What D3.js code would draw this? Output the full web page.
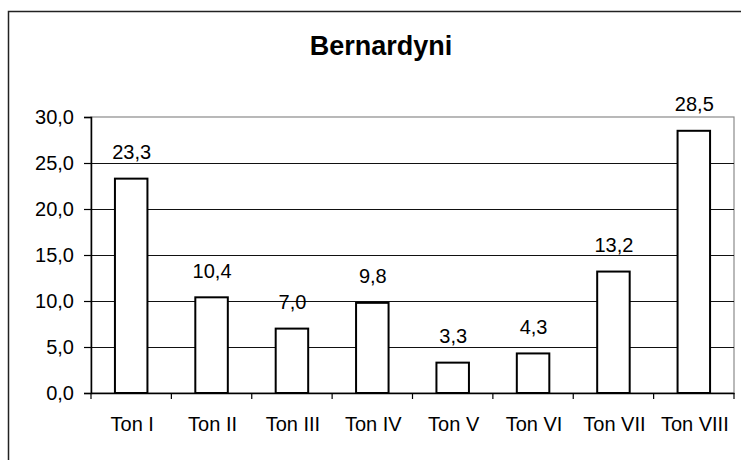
<!DOCTYPE html>
<html>
<head>
<meta charset="utf-8">
<script src="https://cdn.jsdelivr.net/npm/d3@7"></script>
<style>
  html, body { margin: 0; padding: 0; background: #fff; }
  svg { display: block; }
  text { font-family: "Liberation Sans", Arial, sans-serif; fill: #000; }
</style>
</head>
<body>
<svg id="chart" width="741" height="460"></svg>
<script>
const title = "Bernardyni";
const categories = ["Ton I", "Ton II", "Ton III", "Ton IV", "Ton V", "Ton VI", "Ton VII", "Ton VIII"];
const values = [23.3, 10.4, 7.0, 9.8, 3.3, 4.3, 13.2, 28.5];
const yTicks = [0, 5, 10, 15, 20, 25, 30];

const svg = d3.select("#chart");
const W = 741, H = 460;
const m = { left: 91, right: 734, top: 117, bottom: 393 };

const fmt = v => d3.format(".1f")(v).replace(".", ",");

// outer frame
svg.append("rect")
  .attr("x", 8.5).attr("y", 11.5)
  .attr("width", W + 10).attr("height", H + 10)
  .attr("fill", "#fff").attr("stroke", "#222").attr("stroke-width", 1.5);

// title
svg.append("text")
  .attr("x", 381).attr("y", 54.5)
  .attr("text-anchor", "middle")
  .style("font-size", "27px").style("font-weight", "bold")
  .text(title);

const x = d3.scaleBand().domain(categories).range([m.left, m.right]).paddingInner(0).paddingOuter(0);
const y = d3.scaleLinear().domain([0, 30]).range([m.bottom, m.top]);

// plot area border (gray top/right)
svg.append("rect")
  .attr("x", m.left).attr("y", m.top)
  .attr("width", m.right - m.left).attr("height", m.bottom - m.top)
  .attr("fill", "none").attr("stroke", "#8a8a8a").attr("stroke-width", 1.2);

// gridlines
svg.append("g").selectAll("line")
  .data(yTicks.filter(t => t > 0 && t < 30))
  .join("line")
  .attr("x1", m.left).attr("x2", m.right)
  .attr("y1", d => Math.round(y(d)) + 0.5).attr("y2", d => Math.round(y(d)) + 0.5)
  .attr("stroke", "#111").attr("stroke-width", 1);

// bars
const bw = 32.5;
svg.append("g").selectAll("rect")
  .data(values)
  .join("rect")
  .attr("x", (d, i) => x(categories[i]) + x.bandwidth() / 2 - bw / 2)
  .attr("y", d => y(d))
  .attr("width", bw)
  .attr("height", d => y(0) - y(d))
  .attr("fill", "#fff").attr("stroke", "#000").attr("stroke-width", 2);

// value labels
svg.append("g").selectAll("text")
  .data(values)
  .join("text")
  .attr("x", (d, i) => x(categories[i]) + x.bandwidth() / 2 + 0.5)
  .attr("y", d => y(d) - 19.5)
  .attr("text-anchor", "middle")
  .style("font-size", "20px")
  .text(d => fmt(d));

// y axis
const yAxis = d3.axisLeft(y).tickValues(yTicks).tickSize(7).tickPadding(10).tickFormat(fmt);
const gy = svg.append("g").attr("transform", `translate(${m.left},0)`).call(yAxis);
gy.select(".domain").attr("stroke", "#000").attr("stroke-width", 1.5);
gy.selectAll(".tick line").attr("stroke", "#000").attr("stroke-width", 1.2);
gy.selectAll(".tick text").style("font-size", "20px").style("font-family", "Liberation Sans, Arial, sans-serif").attr("fill", "#000");

// x axis
const xAxis = d3.axisBottom(x).tickSize(0).tickPadding(23.5);
const gx = svg.append("g").attr("transform", `translate(0,${m.bottom})`).call(xAxis);
gx.select(".domain").attr("stroke", "#000").attr("stroke-width", 1.5);
gx.selectAll(".tick text").style("font-size", "20px").style("font-family", "Liberation Sans, Arial, sans-serif").attr("fill", "#000").attr("dx", "1");

// x boundary ticks
const bounds = categories.map(c => x(c)).concat([m.right]);
svg.append("g").selectAll("line")
  .data(bounds)
  .join("line")
  .attr("x1", d => d).attr("x2", d => d)
  .attr("y1", m.bottom).attr("y2", m.bottom + 6)
  .attr("stroke", "#000").attr("stroke-width", 1.2);
</script>
</body>
</html>
